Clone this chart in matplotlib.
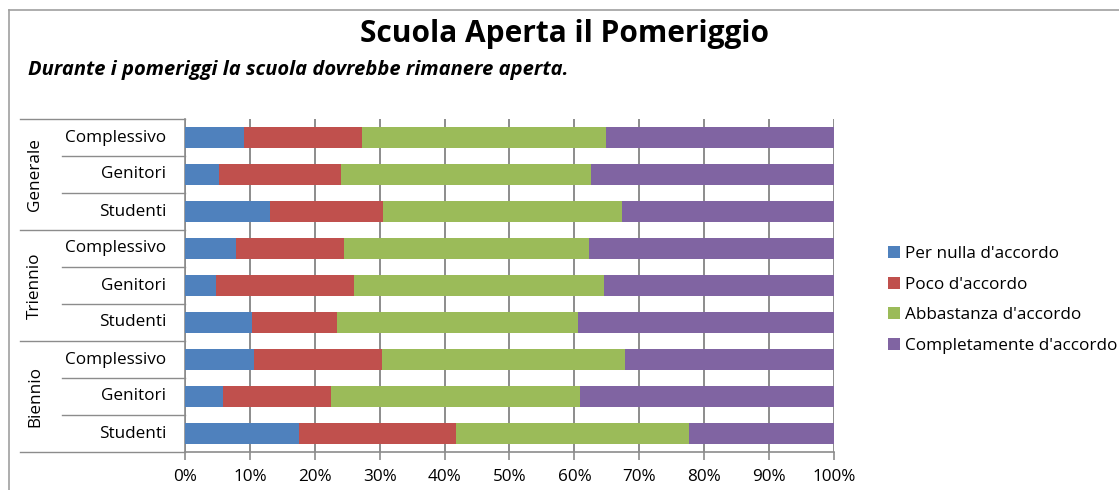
import matplotlib
matplotlib.use("Agg")
import matplotlib.pyplot as plt
from matplotlib.lines import Line2D
import numpy as np

plt.rcParams['font.family'] = ['Open Sans', 'DejaVu Sans']

groups = ["Generale", "Triennio", "Biennio"]
subgroups = ["Complessivo", "Genitori", "Studenti"]
series_names = ["Per nulla d'accordo", "Poco d'accordo",
                "Abbastanza d'accordo", "Completamente d'accordo"]
colors = ["#4F81BD", "#C0504D", "#9BBB59", "#8064A2"]

# rows top to bottom: Generale (Compl, Gen, Stud), Triennio (...), Biennio (...)
per_nulla = [9.1, 5.3, 13.1, 7.9, 4.8, 10.3, 10.7, 5.9, 17.6]
poco = [18.1, 18.7, 17.4, 16.6, 21.2, 13.1, 19.6, 16.6, 24.1]
abbastanza = [37.6, 38.5, 36.8, 37.7, 38.5, 37.1, 37.5, 38.4, 36.0]
completamente = [35.2, 37.5, 32.7, 37.8, 35.5, 39.5, 32.2, 39.1, 22.3]
xticklabels = ["0%", "10%", "20%", "30%", "40%", "50%", "60%", "70%", "80%", "90%", "100%"]

W, H = 1119, 490
FS = 12.3
fig = plt.figure(figsize=(W / 100, H / 100), dpi=100)
ax = fig.add_axes([185 / W, (H - 452) / H, (834 - 185) / W, (452 - 119) / H])

n = len(per_nulla)
ypos = np.arange(n)[::-1]  # top row at highest y
data = [per_nulla, poco, abbastanza, completamente]
left = np.zeros(n)
for vals, col, name in zip(data, colors, series_names):
    vals = np.array(vals)
    ax.barh(ypos, vals, left=left, height=0.57, color=col, label=name,
            edgecolor='none', zorder=3)
    left += vals

ax.set_xlim(0, 100)
ax.set_ylim(-0.5, n - 0.5)
ax.set_xticks(np.arange(0, 101, 10))
ax.set_xticklabels(xticklabels, fontsize=FS)
ax.xaxis.grid(True, color='#8C8C8C', linewidth=1.4, zorder=0)
ax.set_yticks([])
for s in ['top', 'right']:
    ax.spines[s].set_visible(False)
ax.spines['left'].set_color('#8C8C8C')
ax.spines['left'].set_linewidth(1.2)
ax.spines['bottom'].set_color('#8C8C8C')
ax.spines['bottom'].set_linewidth(1.2)
ax.tick_params(axis='x', length=6, color='#8C8C8C', width=1.2, pad=6)

# category labels
trans = ax.get_yaxis_transform()
labels = [sg for g in groups for sg in subgroups]
for yv, lab in zip(ypos, labels):
    ax.text((166 - 185) / 649, yv, lab, transform=trans, ha='right', va='center',
            fontsize=FS, color='black')

x_group = (20 - 185) / 649
x_row = (62 - 185) / 649
# row separators
for k in range(n + 1):
    yb = k - 0.5
    xs = x_group if k % 3 == 0 else x_row
    ax.add_line(Line2D([xs, 0], [yb, yb], transform=trans, color='#8C8C8C',
                       linewidth=1.0, clip_on=False))

# group labels
for gi, g in enumerate(groups):
    center = ypos[gi * 3 + 1]
    ax.text((35 - 185) / 649, center, g, transform=trans, rotation=90,
            ha='center', va='center', fontsize=FS)

# legend
ax.legend(loc='center left', bbox_to_anchor=(881 / W, (H - 300) / H),
          bbox_transform=fig.transFigure, frameon=False, fontsize=FS,
          handlelength=0.7, handleheight=0.7, handletextpad=0.3,
          labelspacing=0.86, borderaxespad=0)

# title / subtitle
fig.text(564 / W, 1 - 34 / H, "Scuola Aperta il Pomeriggio", ha='center',
         va='center', fontsize=21.5, fontweight='bold')
fig.text(28 / W, 1 - 70 / H, "Durante i pomeriggi la scuola dovrebbe rimanere aperta.",
         ha='left', va='center', fontsize=14.5, fontweight='bold', style='italic')

# chart border
fig.add_artist(Line2D([9 / W, 9 / W], [0, 1 - 10 / H], transform=fig.transFigure,
                      color='#A0A0A0', linewidth=1.2))
fig.add_artist(Line2D([9 / W, 1], [1 - 10 / H, 1 - 10 / H], transform=fig.transFigure,
                      color='#A0A0A0', linewidth=1.2))

fig.savefig("out.png", dpi=100)
